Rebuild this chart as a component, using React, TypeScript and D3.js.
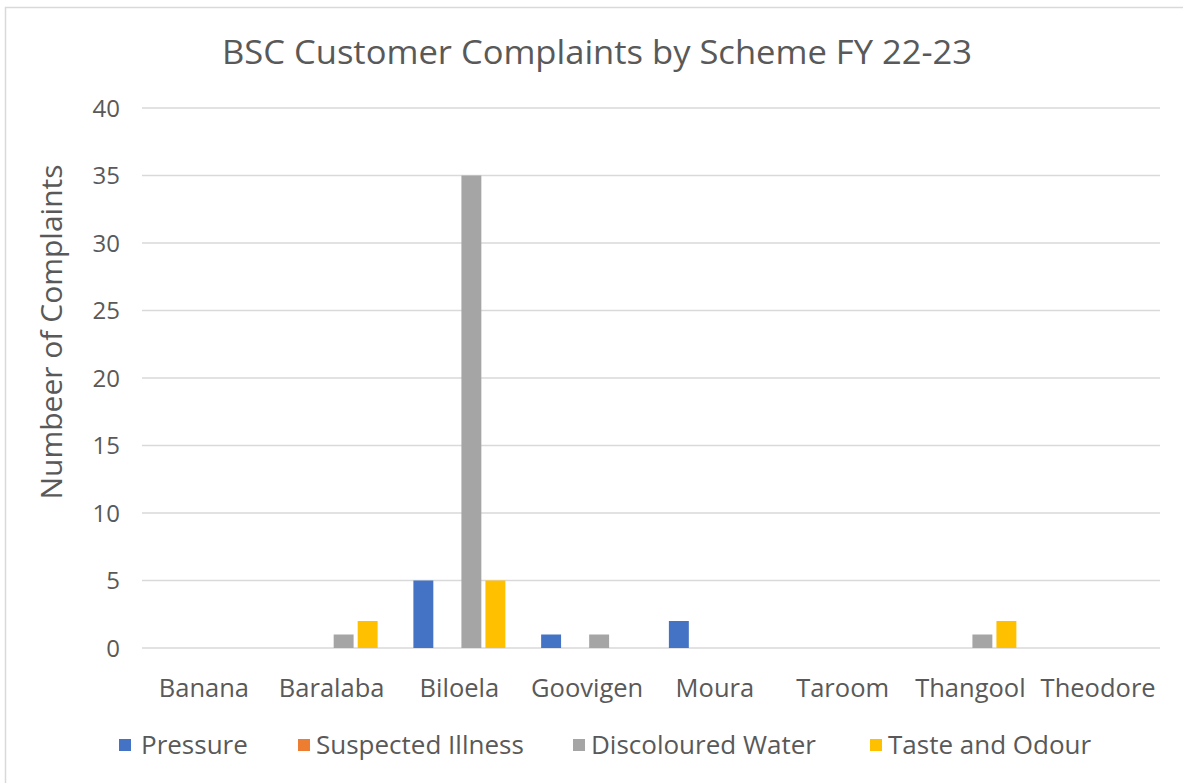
import { useEffect, useRef } from "react"
import * as d3 from "d3"

const categories = ["Banana", "Baralaba", "Biloela", "Goovigen", "Moura", "Taroom", "Thangool", "Theodore"]
const seriesNames = ["Pressure", "Suspected Illness", "Discoloured Water", "Taste and Odour"]
const colors = ["#4472C4", "#ED7D31", "#A5A5A5", "#FFC000"]
const pressure = [0, 0, 5, 1, 2, 0, 0, 0]
const suspectedIllness = [0, 0, 0, 0, 0, 0, 0, 0]
const discolouredWater = [0, 1, 35, 1, 0, 0, 1, 0]
const tasteOdour = [0, 2, 5, 0, 0, 0, 2, 0]
const yTicks = [0, 5, 10, 15, 20, 25, 30, 35, 40]

const seriesValues = [pressure, suspectedIllness, discolouredWater, tasteOdour]

export default function App() {
  const svgRef = useRef<SVGSVGElement>(null)

  useEffect(() => {
    if (!svgRef.current) return
    const svg = d3.select(svgRef.current)
    svg.selectAll("*").remove()

    const font = "'Open Sans', sans-serif"
    const textColor = "#595959"

    // chart frame
    svg.append("rect").attr("x", 5.5).attr("y", 7.5).attr("width", 1190).attr("height", 800)
      .attr("fill", "white").attr("stroke", "#D9D9D9").attr("stroke-width", 1.5)

    const left = 140, right = 1162, top = 108, bottom = 648

    const x0 = d3.scaleBand().domain(categories).range([left, right]).paddingInner(0.28).paddingOuter(0.14)
    const x1 = d3.scaleBand().domain(seriesNames).range([0, x0.bandwidth()]).paddingInner(0.17)
    const y = d3.scaleLinear().domain([0, 40]).range([bottom, top])

    // gridlines
    svg.append("g").selectAll("line").data(yTicks).enter().append("line")
      .attr("x1", left + 2).attr("x2", right - 2)
      .attr("y1", (d) => y(d)).attr("y2", (d) => y(d))
      .attr("stroke", "#D9D9D9").attr("stroke-width", 1.5)

    // y tick labels
    svg.append("g").selectAll("text").data(yTicks).enter().append("text")
      .attr("x", 120).attr("y", (d) => y(d)).attr("dy", "0.36em")
      .attr("text-anchor", "end").attr("font-family", font).attr("font-size", 24)
      .attr("fill", textColor).text((d) => d)

    // bars
    seriesNames.forEach((name, si) => {
      svg.append("g").selectAll("rect").data(categories).enter().append("rect")
        .attr("x", (c) => (x0(c) || 0) + (x1(name) || 0))
        .attr("width", x1.bandwidth())
        .attr("y", (c, i) => y(seriesValues[si][i]))
        .attr("height", (c, i) => y(0) - y(seriesValues[si][i]))
        .attr("fill", colors[si])
    })

    // category labels
    svg.append("g").selectAll("text").data(categories).enter().append("text")
      .attr("x", (c) => (x0(c) || 0) + x0.bandwidth() / 2).attr("y", 697)
      .attr("text-anchor", "middle").attr("font-family", font).attr("font-size", 25.5)
      .attr("fill", textColor).text((c) => c)

    // title
    svg.append("text").attr("x", 597).attr("y", 64).attr("text-anchor", "middle")
      .attr("font-family", font).attr("font-size", 33).attr("fill", textColor)
      .attr("textLength", 750).attr("lengthAdjust", "spacingAndGlyphs")
      .text("BSC Customer Complaints by Scheme FY 22-23")

    // y axis title
    svg.append("text").attr("transform", `translate(62, 332) rotate(-90)`)
      .attr("text-anchor", "middle").attr("font-family", font).attr("font-size", 30)
      .attr("fill", textColor).text("Numbeer of Complaints")

    // legend
    const legendX = [119, 298, 573, 870]
    seriesNames.forEach((name, i) => {
      const g = svg.append("g").attr("transform", `translate(${legendX[i]}, 745)`)
      g.append("rect").attr("x", 0).attr("y", -6).attr("width", 12).attr("height", 12).attr("fill", colors[i])
      g.append("text").attr("x", i === 0 ? 22 : 18).attr("y", 0).attr("dy", "0.36em")
        .attr("font-family", font).attr("font-size", 26).attr("fill", textColor).text(name)
    })
  }, [])

  return <svg ref={svgRef} width={1183} height={783} style={{ position: "absolute", left: 0, top: 0 }}></svg>
}
